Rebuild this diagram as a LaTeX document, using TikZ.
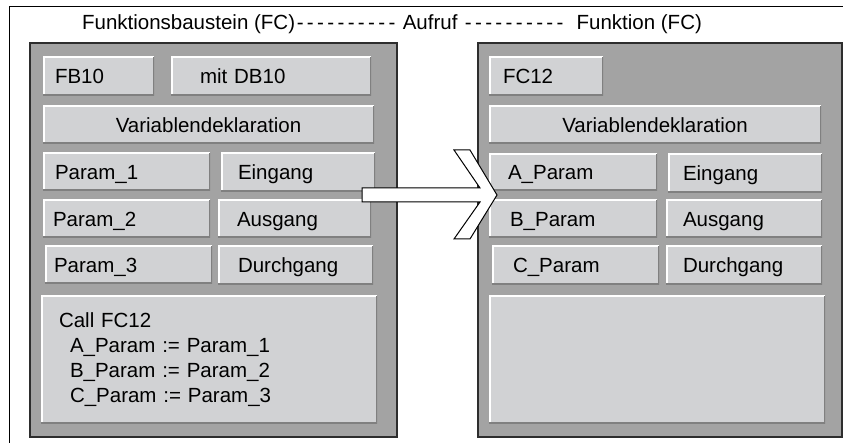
\documentclass[tikz,border=0pt]{standalone}
\usepackage{fontspec}
\setmainfont{Liberation Sans}
\usepackage{tikz}
\usetikzlibrary{positioning}
\usepackage{xcolor}

\definecolor{tafelgrau}{RGB}{163,163,163}
\definecolor{knopfgrau}{RGB}{209,210,212}
\definecolor{kante}{RGB}{128,128,128}
\definecolor{rahmen}{RGB}{45,45,45}

% Bindestriche im Titel sind breiter als in Arial
\newcommand{\strichel}{\foreach \n in {1,...,10}{\makebox[10.2pt][c]{-}}}

\begin{document}
\begin{tikzpicture}[
    x=1pt, y=-1pt,
    every node/.style={font=\fontsize{20.5}{25}\selectfont, outer sep=0pt},
    tafel/.style={draw=rahmen, line width=1.3pt, fill=tafelgrau, anchor=north west, inner sep=0pt},
    feld/.style={fill=knopfgrau, anchor=north west, inner ysep=0pt,
        path picture={
            \draw[white, line width=3pt] (path picture bounding box.south west) -- (path picture bounding box.north west) -- (path picture bounding box.north east);
            \draw[kante, line width=3pt] (path picture bounding box.south west) -- (path picture bounding box.south east) -- (path picture bounding box.north east);
        }},
    knopf/.style={feld, align=left, text height=15pt, text depth=0pt},
    pfeil/.style={draw=black, line width=1pt, fill=white, line join=miter}
]
\useasboundingbox (0,0) rectangle (843,443);
\draw[black, line width=1pt] (9,443) |- (843,7);

\node[anchor=base] (titel) at (392,30) {Funktionsbaustein (FC)\strichel{} Aufruf \strichel{}\ \ Funktion (FC)};

% aufrufender Baustein
\node[tafel, minimum width=367, minimum height=394] (links) at (30,43) {};
\node[knopf, minimum height=39, inner xsep=12, text width=87] (fb) at (43,57) {FB10};
\node[knopf, minimum height=39, inner xsep=29, text width=142] (db) at (171,57) {mit DB10};
\node[knopf, minimum height=38, inner xsep=5, text width=321, align=center] (deklL) at (43,106) {Variablendeklaration};
\node[knopf, minimum height=38, inner xsep=12, text width=143] (par1) at (43,153) {Param\_1};
\node[knopf, minimum height=39, inner xsep=17, text width=120] (einL) at (221,153) {Eingang};
\node[knopf, minimum height=38, inner xsep=10, text width=147] (par2) at (43,200) {Param\_2};
\node[knopf, minimum height=38, inner xsep=19, text width=115] (ausL) at (218,200) {Ausgang};
\node[knopf, minimum height=38, inner xsep=9, text width=149] (par3) at (45,246) {Param\_3};
\node[knopf, minimum height=39, inner xsep=20, text width=115] (durchL) at (218,246) {Durchgang};
\node[feld, minimum height=127, inner xsep=18, text width=300, align=left] (aufruf) at (41,296) {Call FC12\\
    \hspace*{11pt}A\_Param := Param\_1\\
    \hspace*{11pt}B\_Param := Param\_2\\
    \hspace*{11pt}C\_Param := Param\_3};

% aufgerufene Funktion
\node[tafel, minimum width=364, minimum height=394] (rechts) at (478,43) {};
\node[knopf, minimum height=39, inner xsep=14, text width=86] (fc) at (489,57) {FC12};
\node[knopf, minimum height=38, inner xsep=5, text width=322, align=center] (deklR) at (489,106) {Variablendeklaration};
\node[knopf, minimum height=37, inner xsep=19, text width=130] (apar) at (489,154) {A\_Param};
\node[knopf, minimum height=39, inner xsep=15, text width=124] (einR) at (668,154) {Eingang};
\node[knopf, minimum height=38, inner xsep=21, text width=126] (bpar) at (489,200) {B\_Param};
\node[knopf, minimum height=38, inner xsep=17, text width=122] (ausR) at (666,200) {Ausgang};
\node[knopf, minimum height=39, inner xsep=21, text width=125] (cpar) at (492,246) {C\_Param};
\node[knopf, minimum height=39, inner xsep=17, text width=122] (durchR) at (666,246) {Durchgang};
\node[feld, minimum width=336, minimum height=127] (rumpf) at (489,296) {};

% Blockpfeil
\draw[pfeil] (362,188) -- (480,188) -- (454,150) -- (470,150) -- (497,195)
    -- (470,239) -- (454,239) -- (480,202) -- (362,202) -- cycle;
\end{tikzpicture}
\end{document}
